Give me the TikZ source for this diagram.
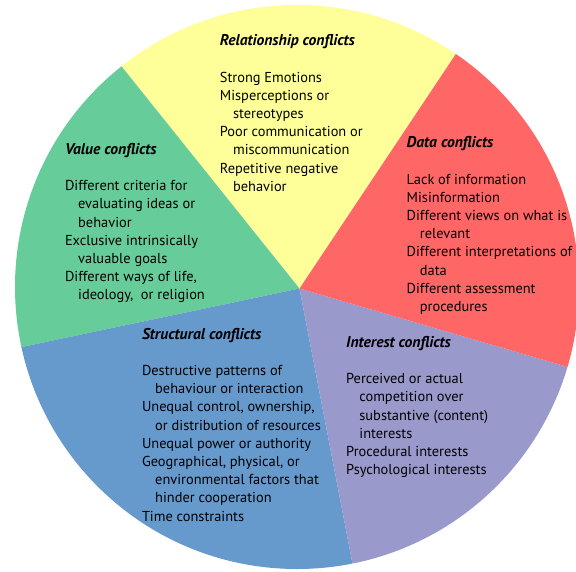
\documentclass[tikz,border=0pt]{standalone}
\usepackage{fontspec}
\setmainfont{PT Sans}
\usetikzlibrary{calc}

\definecolor{relyellow}{HTML}{FFFF99}
\definecolor{datared}{HTML}{FF6666}
\definecolor{intpurple}{HTML}{9999CC}
\definecolor{strblue}{HTML}{6699CC}
\definecolor{valgreen}{HTML}{66CC99}

% continuation lines of an item are indented
\newcommand\subind{\hspace*{13.2pt}}
\newcommand\heading[1]{{\fontsize{15.6}{18.2}\selectfont\textbf{\textit{#1}}}}

\tikzset{
  sector/.style={draw=none},
  block/.style={anchor=base west, inner sep=0pt, align=left,
                font=\fontsize{14.4}{18.2}\selectfont},
}

\begin{document}
\begin{tikzpicture}[x=1pt,y=-1pt]
  \useasboundingbox (0,0) rectangle (576,571);

  % the pie: wedges meet at the hub and are cut by the disc
  \coordinate (hub) at (299.5,288.5);
  \coordinate (disc) at (297,287);
  \begin{scope}
    \clip (0,0) rectangle (576,571);
    \clip (disc) circle[radius=282pt];
    \fill[sector, relyellow]
      (hub) -- ($(hub)+(56.3:800pt)$) -- ($(hub)+(128.7:800pt)$) -- cycle;
    \fill[sector, valgreen]
      (hub) -- ($(hub)+(128.7:800pt)$) -- ($(hub)+(191.9:800pt)$) -- cycle;
    \fill[sector, strblue]
      (hub) -- ($(hub)+(191.9:800pt)$) -- ($(hub)+(280.9:800pt)$) -- cycle;
    \fill[sector, intpurple]
      (hub) -- ($(hub)+(280.9:800pt)$) -- ($(hub)+(343.7:800pt)$) -- cycle;
    \fill[sector, datared]
      (hub) -- ($(hub)+(343.7:800pt)$) -- ($(hub)+(416.3:800pt)$) -- cycle;
  \end{scope}

  % text blocks
  \node[block] (relationship) at (219.7,45.7) {%
    \begin{tabular}[t]{@{}l@{}}
      \heading{Relationship conflicts}\\
      \\
      Strong Emotions\\
      Misperceptions or\\
      \subind stereotypes\\
      Poor communication or\\
      \subind miscommunication\\
      Repetitive negative\\
      \subind behavior
    \end{tabular}};

  \node[block] (data) at (406.5,147.6) {%
    \begin{tabular}[t]{@{}l@{}}
      \heading{Data conflicts}\\
      \\
      Lack of information\\
      Misinformation\\
      Different views on what is\\
      \subind relevant\\
      Different interpretations of\\
      \subind data\\
      Different assessment\\
      \subind procedures
    \end{tabular}};

  \node[block] (value) at (64.8,154.3) {%
    \begin{tabular}[t]{@{}l@{}}
      \heading{Value conflicts}\\
      \\
      Different criteria for\\
      \subind evaluating ideas or\\
      \subind behavior\\
      Exclusive intrinsically\\
      \subind valuable goals\\
      Different ways of life,\\
      \subind ideology,\ \ or religion
    \end{tabular}};

  \node[block] (structural) at (141.8,339) {%
    \begin{tabular}[t]{@{}l@{}}
      \heading{Structural conflicts}\\
      \\
      Destructive patterns of\\
      \subind behaviour or interaction\\
      Unequal control, ownership,\\
      \subind or distribution of resources\\
      Unequal power or authority\\
      Geographical, physical, or\\
      \subind environmental factors that\\
      \subind hinder cooperation\\
      Time constraints
    \end{tabular}};

  \node[block] (interest) at (346,347.3) {%
    \begin{tabular}[t]{@{}l@{}}
      \heading{Interest conflicts}\\
      \\
      Perceived or actual\\
      \subind competition over\\
      \subind substantive (content)\\
      \subind interests\\
      Procedural interests\\
      Psychological interests
    \end{tabular}};
\end{tikzpicture}
\end{document}
